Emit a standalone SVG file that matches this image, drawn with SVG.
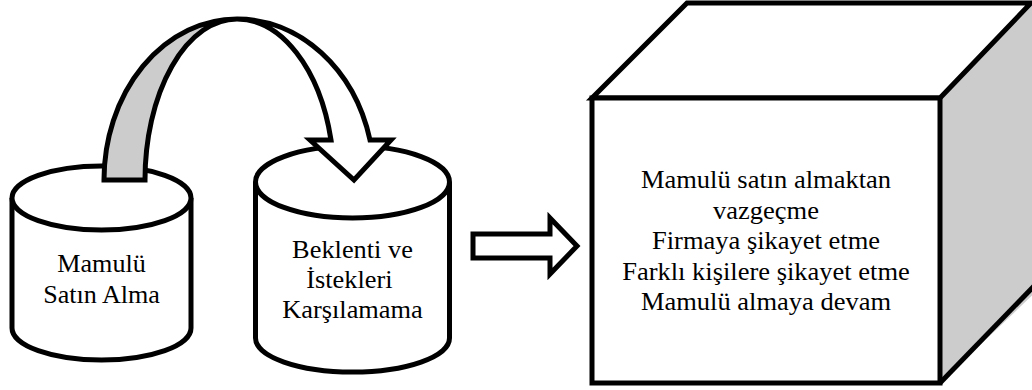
<svg xmlns="http://www.w3.org/2000/svg" width="1032" height="390" viewBox="0 0 1032 390">
  <style>
    .ln { fill: #fff; stroke: #000; stroke-width: 5; stroke-linejoin: miter; stroke-miterlimit: 4; }
    .gr { fill: #cccccc; stroke: #000; stroke-width: 5; stroke-linejoin: miter; stroke-miterlimit: 4; }
    .edge { fill: none; stroke: #000; stroke-width: 5; stroke-linecap: butt; }
    .lbl { font-family: "Liberation Serif", "Times New Roman", serif; font-size: 25px; fill: #000; text-anchor: middle; }
  </style>

  <!-- Left cylinder -->
  <g id="node-satin-alma">
    <path class="ln" d="M 12 198 L 12 328 A 89.5 32 0 0 0 191 328 L 191 198"/>
    <ellipse class="ln" cx="101.5" cy="198" rx="89.5" ry="32"/>
    <g transform="translate(101.5 0) scale(1.045 1)">
      <text class="lbl" x="0" y="272">Mamulü</text>
      <text class="lbl" x="0" y="303">Satın Alma</text>
    </g>
  </g>

  <!-- Right cylinder -->
  <g id="node-beklenti">
    <path class="ln" d="M 255.5 182 L 255.5 338 A 97 34 0 0 0 449.5 338 L 449.5 182"/>
    <ellipse class="ln" cx="352.5" cy="182" rx="97" ry="36"/>
    <g transform="translate(352.5 0) scale(1.055 1)">
      <text class="lbl" x="0" y="258">Beklenti ve</text>
      <text class="lbl" x="-3" y="288">İstekleri</text>
      <text class="lbl" x="0" y="318">Karşılamama</text>
    </g>
  </g>

  <!-- Cube -->
  <g id="node-sonuclar">
    <polygon points="940,98 1031,3 1040,3 1040,288 940,383" fill="#cccccc"/>
    <polygon class="ln" points="592,98 687,3 1031,3 940,98"/>
    <line class="edge" x1="940" y1="383" x2="1034" y2="286"/>
    <rect class="ln" x="592" y="98" width="348" height="285"/>
    <g transform="translate(766 0) scale(1.06 1)">
      <text class="lbl" x="0" y="188">Mamulü satın almaktan</text>
      <text class="lbl" x="0" y="218.6">vazgeçme</text>
      <text class="lbl" x="0" y="249.2">Firmaya şikayet etme</text>
      <text class="lbl" x="0" y="279.8">Farklı kişilere şikayet etme</text>
      <text class="lbl" x="0" y="310.4">Mamulü almaya devam</text>
    </g>
  </g>

  <!-- Connectors -->
  <g id="connectors">
    <!-- curved arrow: shaded back band, then front band with head -->
    <path class="gr" d="M 104 180 A 133 161 0 0 1 237 19 A 92 161 0 0 0 145 180 Z"/>
    <path class="ln" d="M 237 19 A 137 161 0 0 1 370 140 L 391 140 L 354 180 L 310 140 L 331 140 A 97 161 0 0 0 237 19 Z"/>
    <!-- block arrow to the cube -->
    <path class="ln" d="M 473 234 L 550 234 L 550 218 L 577 246 L 550 274 L 550 258 L 473 258 Z"/>
  </g>
</svg>
